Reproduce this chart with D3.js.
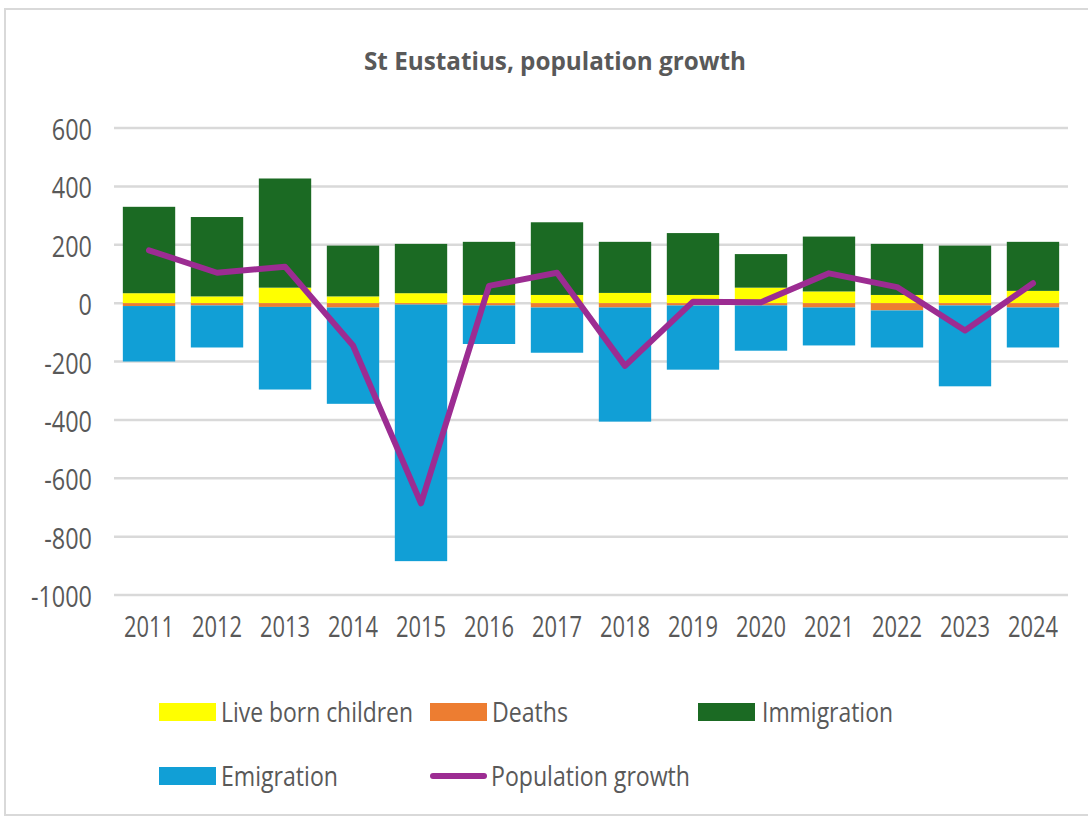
<!DOCTYPE html>
<html>
<head>
<meta charset="utf-8">
<script src="https://cdn.jsdelivr.net/npm/d3@7"></script>
<style>
  body { margin: 0; background: #fff; }
  text { font-family: "Open Sans", sans-serif; fill: #595959; }
</style>
</head>
<body>
<script>
// values
const years = ['2011','2012','2013','2014','2015','2016','2017','2018','2019','2020','2021','2022','2023','2024'];
const liveBorn    = [34, 23, 53, 23, 34, 28, 28, 35, 28, 53, 40, 28, 28, 42];
const deaths      = [-10, -8, -13, -15, -5, -8, -15, -15, -8, -8, -15, -25, -8, -15];
const immigration = [296, 272, 374, 174, 169, 182, 249, 175, 212, 115, 188, 175, 169, 168];
const emigration  = [-190, -144, -283, -330, -879, -132, -155, -391, -220, -155, -130, -127, -277, -137];
const popGrowth   = [181, 104, 125, -145, -686, 59, 104, -215, 5, 3, 102, 55, -94, 68];
const yTicks = [600, 400, 200, 0, -200, -400, -600, -800, -1000];

const keys = ['born', 'deaths', 'imm', 'emi'];
const colors = { born: '#ffff00', deaths: '#ed7d31', imm: '#1b6a23', emi: '#119fd6' };
const lineColor = '#9c2c92';

const width = 1088, height = 819;

const svg = d3.select('body').append('svg')
  .attr('width', width)
  .attr('height', height);

// chart frame
svg.append('rect')
  .attr('x', 5).attr('y', 9)
  .attr('width', 1100).attr('height', 806)
  .attr('fill', 'none')
  .attr('stroke', '#d9d9d9')
  .attr('stroke-width', 2);

function squeeze(sel, k) {
  sel.each(function() {
    const w = this.getComputedTextLength();
    d3.select(this).attr('textLength', w * k).attr('lengthAdjust', 'spacingAndGlyphs');
  });
}

const rows = years.map((y, i) => ({
  year: y, born: liveBorn[i], deaths: deaths[i], imm: immigration[i], emi: emigration[i]
}));

const x = d3.scaleBand().domain(years).range([114, 1068]).paddingInner(0.23).paddingOuter(0.13);
const y = d3.scaleLinear().domain([-1000, 600]).range([595, 128]);

// gridlines
svg.append('g').selectAll('line')
  .data(yTicks)
  .join('line')
  .attr('x1', 114).attr('x2', 1068)
  .attr('y1', d => y(d)).attr('y2', d => y(d))
  .attr('stroke', '#d9d9d9')
  .attr('stroke-width', 2.5);

// stacked bars
const series = d3.stack().keys(keys).offset(d3.stackOffsetDiverging)(rows);

svg.append('g').selectAll('g')
  .data(series)
  .join('g')
  .attr('fill', d => colors[d.key])
  .selectAll('rect')
  .data(d => d)
  .join('rect')
  .attr('x', d => x(d.data.year))
  .attr('width', x.bandwidth())
  .attr('y', d => y(Math.max(d[0], d[1])))
  .attr('height', d => Math.abs(y(d[0]) - y(d[1])));

// population growth line
const line = d3.line()
  .x((d, i) => x(years[i]) + x.bandwidth() / 2)
  .y(d => y(d));

svg.append('path')
  .datum(popGrowth)
  .attr('d', line)
  .attr('fill', 'none')
  .attr('stroke', lineColor)
  .attr('stroke-width', 6)
  .attr('stroke-linejoin', 'round')
  .attr('stroke-linecap', 'round');

// y axis labels
const yAxis = svg.append('g')
  .attr('transform', 'translate(92,2)')
  .call(d3.axisLeft(y).tickValues(yTicks).tickFormat(d => String(d)).tickSize(0).tickPadding(0));
yAxis.select('.domain').remove();
yAxis.selectAll('text')
  .style('font-family', '"Open Sans", sans-serif')
  .style('font-size', '30px')
  .attr('fill', '#595959');
squeeze(yAxis.selectAll('text'), 0.78);

// x axis labels
const xAxis = svg.append('g')
  .attr('transform', 'translate(0,616)')
  .call(d3.axisBottom(x).tickSize(0).tickPadding(0));
xAxis.select('.domain').remove();
xAxis.selectAll('text')
  .style('font-family', '"Open Sans", sans-serif')
  .style('font-size', '30px')
  .attr('fill', '#595959');
squeeze(xAxis.selectAll('text'), 0.73);

// title
svg.append('text')
  .attr('x', 555).attr('y', 70)
  .attr('text-anchor', 'middle')
  .style('font-size', '25px')
  .style('font-weight', 700)
  .attr('textLength', 382)
  .attr('lengthAdjust', 'spacingAndGlyphs')
  .text('St Eustatius, population growth');

// legend
const legendItems = [
  { label: 'Live born children', color: colors.born, x: 159, y: 712, w: 192, type: 'rect' },
  { label: 'Deaths', color: colors.deaths, x: 430, y: 712, w: 76, type: 'rect' },
  { label: 'Immigration', color: colors.imm, x: 698, y: 712, w: 131, type: 'rect' },
  { label: 'Emigration', color: colors.emi, x: 159, y: 776, w: 117, type: 'rect' },
  { label: 'Population growth', color: lineColor, x: 430, y: 776, w: 199, type: 'line' }
];

const lg = svg.append('g').selectAll('g')
  .data(legendItems)
  .join('g')
  .attr('transform', d => `translate(${d.x},${d.y})`);

lg.filter(d => d.type === 'rect').append('rect')
  .attr('x', 0).attr('y', -9)
  .attr('width', 57).attr('height', 18)
  .attr('fill', d => d.color);

lg.filter(d => d.type === 'line').append('line')
  .attr('x1', 3).attr('x2', 54)
  .attr('stroke', d => d.color)
  .attr('stroke-width', 6)
  .attr('stroke-linecap', 'round');

lg.append('text')
  .attr('x', d => d.type === 'line' ? 61 : (d.label === 'Immigration' ? 64 : 62))
  .attr('y', 10)
  .style('font-size', '28px')
  .attr('textLength', d => d.w)
  .attr('lengthAdjust', 'spacingAndGlyphs')
  .text(d => d.label);
</script>
</body>
</html>
